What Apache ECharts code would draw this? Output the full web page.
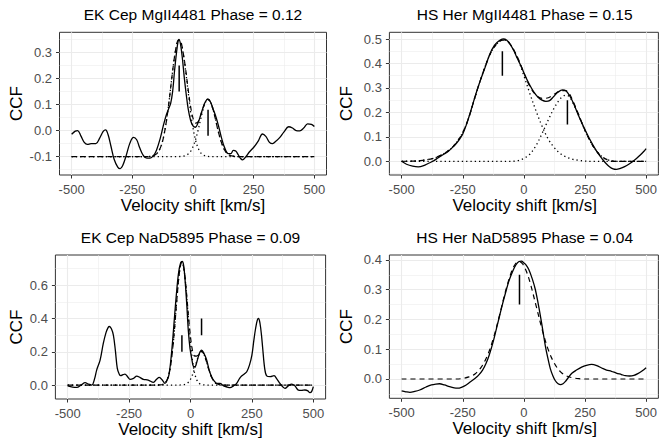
<!DOCTYPE html>
<html><head><meta charset="utf-8">
<script src="https://cdn.jsdelivr.net/npm/echarts@6/dist/echarts.min.js"></script>
<style>html,body{margin:0;padding:0;background:#fff}#c{width:660px;height:441px}</style>
</head><body><div id="c"></div>
<script>
// ---------- shared tick labels ----------
const xTicks = [-500, -250, 0, 250, 500];
const xMinor = [-375, -125, 125, 375];
const p1YTicks = [-0.1, 0, 0.1, 0.2, 0.3];
const p1YMinor = [-0.15, -0.05, 0.05, 0.15, 0.25, 0.35];
const p2YTicks = [0, 0.1, 0.2, 0.3, 0.4, 0.5];
const p2YMinor = [-0.05, 0.05, 0.15, 0.25, 0.35, 0.45];
const p3YTicks = [0, 0.2, 0.4, 0.6];
const p3YMinor = [0.1, 0.3, 0.5, 0.7];
const p4YTicks = [0, 0.1, 0.2, 0.3, 0.4];
const p4YMinor = [-0.05, 0.05, 0.15, 0.25, 0.35];

const titles = ['EK Cep MgII4481 Phase = 0.12', 'HS Her MgII4481 Phase = 0.15',
                'EK Cep NaD5895 Phase = 0.09', 'HS Her NaD5895 Phase = 0.04'];
const xTitle = 'Velocity shift [km/s]';
const yTitle = 'CCF';

// ---------- Panel 1: EK Cep MgII4481 ----------
const p1ObsV = [-500,-485,-475,-462,-448,-435,-420,-400,-385,-370,-360,-350,-338,-325,-310,-300,-290,-275,-260,-245,-232,-220,-205,-190,-177,-162,-150,-135,-122,-110,-100,-92,-84,-76,-68,-62,-58,-52,-44,-36,-28,-20,-10,0,10,20,30,42,52,62,72,82,92,104,118,130,145,156,166,176,186,196,205,218,232,252,270,286,300,315,328,342,356,375,394,410,425,440,456,472,488,500];
const p1ObsY = [-0.014,-0.002,0.0,-0.02,-0.045,-0.053,-0.05,-0.05,-0.03,-0.003,0.003,-0.015,-0.06,-0.11,-0.14,-0.146,-0.135,-0.095,-0.048,-0.026,-0.035,-0.065,-0.095,-0.106,-0.106,-0.095,-0.074,-0.03,0.02,0.06,0.085,0.105,0.15,0.23,0.3,0.34,0.351,0.335,0.28,0.205,0.14,0.085,0.04,0.018,0.013,0.028,0.055,0.09,0.113,0.121,0.11,0.085,0.06,0.022,-0.03,-0.065,-0.088,-0.088,-0.076,-0.078,-0.092,-0.107,-0.112,-0.1,-0.082,-0.062,-0.038,-0.013,-0.022,-0.045,-0.05,-0.04,-0.028,-0.005,0.015,0.01,0.0,-0.001,0.01,0.026,0.024,0.016];
const p1FitV = [-500,-200,-190,-180,-170,-160,-150,-140,-130,-120,-110,-100,-90,-80,-70,-60,-50,-40,-30,-20,-10,0,10,20,30,40,50,60,70,80,90,100,110,120,130,140,150,160,170,180,500];
const p1FitY = [-0.1,-0.1,-0.1,-0.099,-0.098,-0.095,-0.089,-0.077,-0.055,-0.019,0.034,0.102,0.181,0.258,0.318,0.348,0.341,0.297,0.233,0.159,0.093,0.048,0.029,0.033,0.055,0.084,0.109,0.121,0.114,0.09,0.054,0.013,-0.024,-0.053,-0.074,-0.087,-0.094,-0.097,-0.099,-0.1,-0.1];
const p1Comp1Y = [-0.1,-0.1,-0.1,-0.099,-0.098,-0.095,-0.089,-0.077,-0.055,-0.019,0.034,0.102,0.181,0.258,0.318,0.348,0.341,0.295,0.228,0.149,0.073,0.01,-0.035,-0.065,-0.083,-0.092,-0.097,-0.099,-0.1,-0.1,-0.1,-0.1,-0.1,-0.1,-0.1,-0.1,-0.1,-0.1,-0.1,-0.1,-0.1];
const p1Comp2Y = [-0.1,-0.1,-0.1,-0.1,-0.1,-0.1,-0.1,-0.1,-0.1,-0.1,-0.1,-0.1,-0.1,-0.1,-0.1,-0.1,-0.099,-0.098,-0.0955,-0.09,-0.08,-0.062,-0.036,-0.002,0.0375,0.076,0.106,0.12,0.114,0.09,0.054,0.013,-0.024,-0.053,-0.074,-0.087,-0.094,-0.097,-0.099,-0.1,-0.1];
const p1MarkV = [-57, 62];
const p1MarkLo = [0.15, -0.02];
const p1MarkHi = [0.25, 0.08];

// ---------- Panel 2: HS Her MgII4481 ----------
const p2ObsV = [-500,-480,-455,-432,-410,-390,-372,-350,-331,-310,-291,-275,-262,-250,-235,-216,-198,-180,-160,-140,-120,-100,-85,-70,-54,-40,-27,-10,7,25,41,58,74,90,105,122,140,158,172,189,205,222,240,257,275,291,305,320,335,350,365,378,392,412,432,453,475,490,500];
const p2ObsY = [0.0,-0.012,-0.02,-0.023,-0.018,-0.008,0.0,0.015,0.027,0.04,0.058,0.075,0.092,0.112,0.15,0.21,0.27,0.325,0.38,0.437,0.475,0.494,0.5,0.495,0.475,0.45,0.421,0.385,0.346,0.31,0.283,0.262,0.25,0.245,0.248,0.265,0.283,0.292,0.288,0.265,0.232,0.19,0.15,0.115,0.08,0.052,0.03,0.01,-0.008,-0.022,-0.031,-0.033,-0.03,-0.022,-0.01,0.005,0.025,0.04,0.052];
const p2FitV = [-500,-450,-425,-400,-375,-350,-325,-300,-275,-250,-225,-200,-175,-150,-125,-100,-85,-70,-50,-25,0,25,50,75,100,125,150,170,185,200,225,250,275,300,325,350,375,500];
const p2FitY = [0,0.001,0.003,0.006,0.011,0.02,0.033,0.05,0.078,0.118,0.18,0.262,0.34,0.41,0.462,0.49,0.495,0.493,0.47,0.423,0.362,0.305,0.27,0.257,0.26,0.275,0.288,0.289,0.278,0.248,0.189,0.126,0.075,0.038,0.015,0.004,0,0];
const p2Comp1Y = [0,0.001,0.003,0.006,0.011,0.02,0.033,0.05,0.078,0.118,0.18,0.262,0.34,0.41,0.462,0.49,0.495,0.493,0.47,0.42,0.35,0.275,0.205,0.142,0.09,0.055,0.031,0.019,0.013,0.008,0.004,0.001,0,0,0,0,0,0];
const p2Comp2Y = [0,0,0,0,0,0,0,0,0,0,0,0,0,0,0,0,0,0,0,0.003,0.012,0.03,0.065,0.115,0.17,0.22,0.257,0.27,0.265,0.24,0.185,0.125,0.075,0.038,0.015,0.004,0,0];
const p2MarkV = [-88, 178];
const p2MarkLo = [0.35, 0.15];
const p2MarkHi = [0.45, 0.25];

// ---------- Panel 3: EK Cep NaD5895 ----------
const p3ObsV = [-500,-480,-463,-445,-429,-415,-402,-390,-382,-368,-355,-344,-335,-330,-322,-314,-306,-298,-290,-284,-275,-267,-256,-246,-232,-219,-205,-192,-172,-151,-138,-127,-115,-104,-95,-88,-80,-72,-64,-56,-48,-40,-34,-28,-21,-15,-9,-2,5,11,18,26,36,45,55,66,76,86,96,107,120,135,150,161,175,188,200,208,220,229,240,250,258,265,272,277,283,289,294,302,310,325,340,352,364,375,385,398,412,425,439,452,466,478,486,493,500];
const p3ObsY = [-0.005,-0.012,-0.014,0.0,0.014,0.005,0.0,0.04,0.09,0.15,0.25,0.315,0.347,0.352,0.338,0.3,0.21,0.1,0.065,0.056,0.062,0.066,0.05,0.034,0.04,0.054,0.045,0.034,0.03,0.016,0.035,0.046,0.03,0.01,0.03,0.06,0.15,0.28,0.43,0.57,0.68,0.735,0.743,0.72,0.61,0.48,0.33,0.22,0.16,0.115,0.11,0.14,0.19,0.21,0.19,0.15,0.09,0.05,0.025,0.01,0.01,-0.005,-0.012,-0.016,-0.005,0.01,0.04,0.054,0.068,0.08,0.12,0.18,0.27,0.34,0.39,0.4,0.37,0.3,0.22,0.1,0.055,0.05,0.056,0.035,0.01,-0.01,-0.02,-0.005,0.006,-0.005,-0.03,-0.032,-0.03,-0.035,-0.046,-0.04,-0.01];
const p3FitV = [-500,-135,-125,-115,-105,-95,-85,-75,-65,-55,-45,-35,-25,-15,-5,5,15,25,35,45,55,65,75,85,95,105,115,125,135,145,500];
const p3FitY = [0,0,0.001,0.003,0.0105,0.0325,0.084,0.184,0.339,0.523,0.679,0.741,0.682,0.532,0.362,0.234,0.176,0.174,0.194,0.203,0.184,0.141,0.092,0.05,0.023,0.009,0.003,0.001,0,0,0];
const p3Comp1Y = [0,0,0.001,0.003,0.0105,0.0325,0.084,0.184,0.339,0.523,0.679,0.74,0.679,0.523,0.339,0.184,0.084,0.0325,0.0105,0.003,0.001,0,0,0,0,0,0,0,0,0,0];
const p3Comp2Y = [0,0,0,0,0,0,0,0,0,0,0,0.001,0.003,0.009,0.023,0.05,0.092,0.141,0.183,0.2,0.183,0.141,0.092,0.05,0.023,0.009,0.003,0.001,0,0,0];
const p3MarkV = [-35, 45];
const p3MarkLo = [0.2, 0.3];
const p3MarkHi = [0.3, 0.4];

// ---------- Panel 4: HS Her NaD5895 ----------
const p4ObsV = [-500,-483,-466,-446,-426,-400,-378,-360,-345,-325,-304,-285,-270,-253,-236,-220,-203,-186,-169,-155,-142,-128,-115,-100,-88,-75,-61,-47,-34,-20,-10,0,7,20,35,47,58,68,78,88,98,108,118,128,140,150,160,169,182,196,215,236,256,277,298,318,338,358,378,399,415,432,450,466,483,500];
const p4ObsY = [-0.04,-0.043,-0.045,-0.042,-0.037,-0.027,-0.02,-0.017,-0.016,-0.02,-0.026,-0.03,-0.031,-0.027,-0.02,-0.01,0.0,0.012,0.03,0.052,0.08,0.118,0.16,0.21,0.25,0.29,0.33,0.36,0.382,0.395,0.396,0.39,0.385,0.368,0.335,0.3,0.255,0.21,0.16,0.11,0.07,0.035,0.012,-0.005,-0.016,-0.019,-0.016,-0.009,0.005,0.019,0.03,0.04,0.046,0.049,0.045,0.037,0.03,0.026,0.02,0.015,0.011,0.01,0.012,0.018,0.027,0.038];
const p4FitV = [-500,-275,-250,-225,-200,-175,-150,-125,-100,-75,-50,-35,-20,-5,10,25,50,75,100,125,150,175,200,225,250,500];
const p4FitY = [0,0,0.002,0.007,0.017,0.039,0.077,0.136,0.213,0.295,0.362,0.3865,0.395,0.3865,0.362,0.325,0.246,0.165,0.098,0.052,0.024,0.01,0.004,0.001,0,0];
const p4MarkV = [-18];
const p4MarkLo = [0.25];
const p4MarkHi = [0.35];

// ---------- layout ----------
const FONT = '"Liberation Sans", Arial, Helvetica, sans-serif';
const zip = (a, b) => a.map((v, i) => [v, b[i]]);

const panels = [
  { rect: [59.5, 32.3, 267, 142.7], yr: [-0.1705, 0.378], yt: p1YTicks, ym: p1YMinor,
    obs: [p1ObsV, p1ObsY], fitV: p1FitV, fit: p1FitY, comps: [p1Comp1Y, p1Comp2Y], mk: [p1MarkV, p1MarkLo, p1MarkHi] },
  { rect: [389.4, 32.3, 270.6, 142.7], yr: [-0.056, 0.5274], yt: p2YTicks, ym: p2YMinor,
    obs: [p2ObsV, p2ObsY], fitV: p2FitV, fit: p2FitY, comps: [p2Comp1Y, p2Comp2Y], mk: [p2MarkV, p2MarkLo, p2MarkHi] },
  { rect: [55.4, 255, 270.2, 144], yr: [-0.084, 0.782], yt: p3YTicks, ym: p3YMinor,
    obs: [p3ObsV, p3ObsY], fitV: p3FitV, fit: p3FitY, comps: [p3Comp1Y, p3Comp2Y], mk: [p3MarkV, p3MarkLo, p3MarkHi] },
  { rect: [389.4, 255, 270.6, 143.3], yr: [-0.0649, 0.4168], yt: p4YTicks, ym: p4YMinor,
    obs: [p4ObsV, p4ObsY], fitV: p4FitV, fit: p4FitY, comps: [], mk: [p4MarkV, p4MarkLo, p4MarkHi] }
];

const grids = [], xAxes = [], yAxes = [], series = [], graphics = [];
panels.forEach((p, i) => {
  const [l, t, w, h] = p.rect;
  grids.push({ left: l, top: t, width: w, height: h, show: true, backgroundColor: '#fff',
               borderColor: '#333333', borderWidth: 1, containLabel: false });
  xAxes.push({ type: 'value', gridIndex: i, min: -550, max: 550,
    axisLine: { show: false, onZero: false }, splitLine: { show: false },
    axisTick: { show: true, customValues: xTicks, length: 3.5, lineStyle: { color: '#333333', width: 1 } },
    axisLabel: { customValues: xTicks, fontSize: 13, color: '#4d4d4d', margin: 7.5, fontFamily: FONT } });
  yAxes.push({ type: 'value', gridIndex: i, min: p.yr[0], max: p.yr[1],
    axisLine: { show: false, onZero: false }, splitLine: { show: false },
    axisTick: { show: true, customValues: p.yt, length: 3.5, lineStyle: { color: '#333333', width: 1 } },
    axisLabel: { customValues: p.yt, fontSize: 13, color: '#4d4d4d', margin: 7.5, fontFamily: FONT,
                 formatter: v => v.toFixed(1) } });
  // grid lines
  const ml = [];
  xTicks.forEach(v => ml.push({ xAxis: v, lineStyle: { width: 1.1 } }));
  xMinor.forEach(v => ml.push({ xAxis: v, lineStyle: { width: 0.55 } }));
  p.yt.forEach(v => ml.push({ yAxis: v, lineStyle: { width: 1.1 } }));
  p.ym.forEach(v => ml.push({ yAxis: v, lineStyle: { width: 0.55 } }));
  series.push({ type: 'line', xAxisIndex: i, yAxisIndex: i, data: [], silent: true, z: 1,
    markLine: { silent: true, symbol: ['none', 'none'], animation: false, label: { show: false },
      lineStyle: { color: '#ebebeb', type: 'solid' }, emphasis: { disabled: true }, data: ml } });
  // component (dotted) curves
  p.comps.forEach(cy => series.push({ type: 'line', xAxisIndex: i, yAxisIndex: i, data: zip(p.fitV, cy),
    showSymbol: false, smooth: 0.35, z: 8, lineStyle: { color: '#000', width: 1.3, type: [1.3, 3] } }));
  // fit (dashed)
  series.push({ type: 'line', xAxisIndex: i, yAxisIndex: i, data: zip(p.fitV, p.fit),
    showSymbol: false, smooth: 0.35, z: 9, lineStyle: { color: '#000', width: 1.2, type: [5, 4] } });
  // observed (solid)
  series.push({ type: 'line', xAxisIndex: i, yAxisIndex: i, data: zip(p.obs[0], p.obs[1]),
    showSymbol: false, smooth: 0.35, z: 10, lineStyle: { color: '#000', width: 1.3 } });
  // component markers
  p.mk[0].forEach((mv, k) => series.push({ type: 'line', xAxisIndex: i, yAxisIndex: i,
    data: [[mv, p.mk[1][k]], [mv, p.mk[2][k]]], showSymbol: false, z: 11,
    lineStyle: { color: '#000', width: 1.5 } }));
  // texts
  const cx = l + w / 2, cy = t + h / 2;
  graphics.push({ type: 'text', x: cx, y: t - 17.5, style: { text: titles[i], font: '15.5px ' + FONT,
    fill: '#000', textAlign: 'center', textVerticalAlign: 'middle', align: 'center', verticalAlign: 'middle' } });
  graphics.push({ type: 'text', x: cx, y: t + h + 30, style: { text: xTitle, font: '17px ' + FONT,
    fill: '#000', textAlign: 'center', textVerticalAlign: 'middle', align: 'center', verticalAlign: 'middle' } });
  graphics.push({ type: 'text', x: (i % 2 === 0 ? 16 : 346.5), y: cy, rotation: Math.PI / 2,
    style: { text: yTitle, font: '17px ' + FONT, fill: '#000', textAlign: 'center', textVerticalAlign: 'middle',
    align: 'center', verticalAlign: 'middle' } });
});

const chart = echarts.init(document.getElementById('c'), null, { renderer: 'svg', width: 660, height: 441 });
chart.setOption({
  animation: false, backgroundColor: '#fff',
  grid: grids, xAxis: xAxes, yAxis: yAxes, series: series, graphic: graphics
});
</script></body></html>
